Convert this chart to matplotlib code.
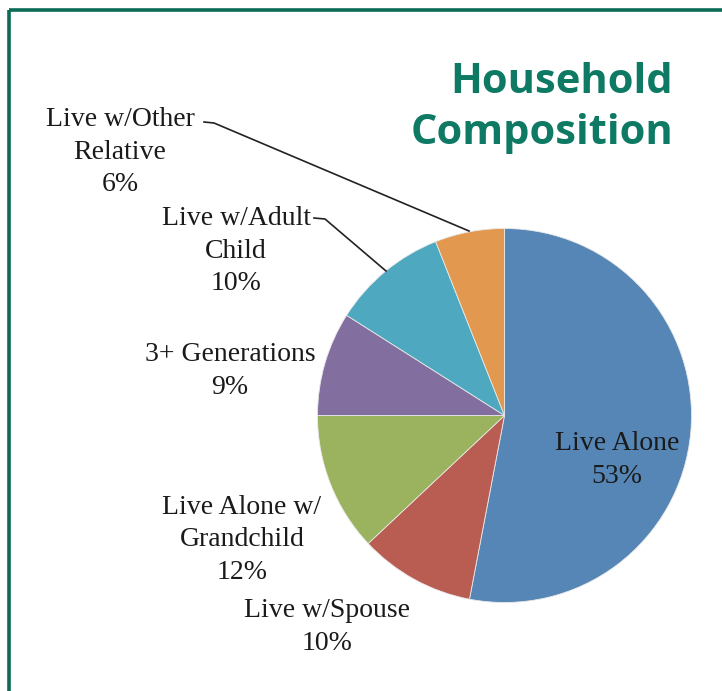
"""
Household composition pie chart with serif callout labels and a teal title.
"""

import matplotlib
matplotlib.use("Agg")
import matplotlib.pyplot as plt

# ── Data ────────────────────────────────────────────────────────────────
categories = [
    "Live Alone",
    "Live w/Spouse",
    "Live Alone w/\nGrandchild",
    "3+ Generations",
    "Live w/Adult\nChild",
    "Live w/Other\nRelative",
]
shares = [53, 10, 12, 9, 10, 6]
slice_colors = ["#5686B6", "#B95C52", "#9BB25E", "#836F9F", "#4EA8BF", "#E2984F"]

TITLE = "Household\nComposition"

# ── Canvas in pixel units (y flipped so numbers read like the picture) ──
W, H = 722, 691
fig = plt.figure(figsize=(W / 100, H / 100), dpi=100, facecolor="white")
ax = fig.add_axes([0, 0, 1, 1])


def py(y):
    return H - y


# Frame (only top and left edges are visible, the rest is cropped)
frame_col = "#0B6B56"
ax.plot([9, W], [py(10), py(10)], color=frame_col, lw=2.6, solid_capstyle="butt")
ax.plot([9, 9], [py(10), 0], color=frame_col, lw=2.6, solid_capstyle="butt")

# ── Pie ─────────────────────────────────────────────────────────────────
cx, cy, r = 504.5, 415.5, 187
ax.pie(
    shares,
    colors=slice_colors,
    startangle=90,
    counterclock=False,
    center=(cx, py(cy)),
    radius=r,
    wedgeprops=dict(edgecolor="#e8e8e8", linewidth=0.6),
    frame=True,
)
ax.set_xlim(0, W)
ax.set_ylim(0, H)
ax.set_aspect("equal")
ax.axis("off")

# ── Labels ──────────────────────────────────────────────────────────────
label_pos = {
    "Live Alone": (617, 460),
    "Live w/Spouse": (327, 627),
    "Live Alone w/\nGrandchild": (242, 540),
    "3+ Generations": (230, 371),
    "Live w/Adult\nChild": (236, 251),
    "Live w/Other\nRelative": (120, 152),
}

serif = ["Liberation Serif", "DejaVu Serif"]
for cat, val in zip(categories, shares):
    x, y = label_pos[cat]
    ax.text(
        x, py(y), f"{cat}\n{val}%",
        ha="center", va="center",
        fontsize=20, family=serif, color="#1a1a1a",
        linespacing=1.39,
    )

# Leader lines for the two small top slices
leaders = [
    [(204, 122), (214, 123), (469, 231)],
    [(314, 218), (325, 219), (386, 271)],
]
for pts in leaders:
    xs = [p[0] for p in pts]
    ys = [py(p[1]) for p in pts]
    ax.plot(xs, ys, color="#222222", lw=1.2)

# ── Title ───────────────────────────────────────────────────────────────
ax.text(
    673, py(108), TITLE,
    ha="right", va="center",
    fontsize=30, fontweight="bold", family=["Open Sans", "DejaVu Sans"],
    color="#0E7A64", linespacing=1.31,
)

plt.savefig("out.png", dpi=100, facecolor=fig.get_facecolor())
plt.close()
